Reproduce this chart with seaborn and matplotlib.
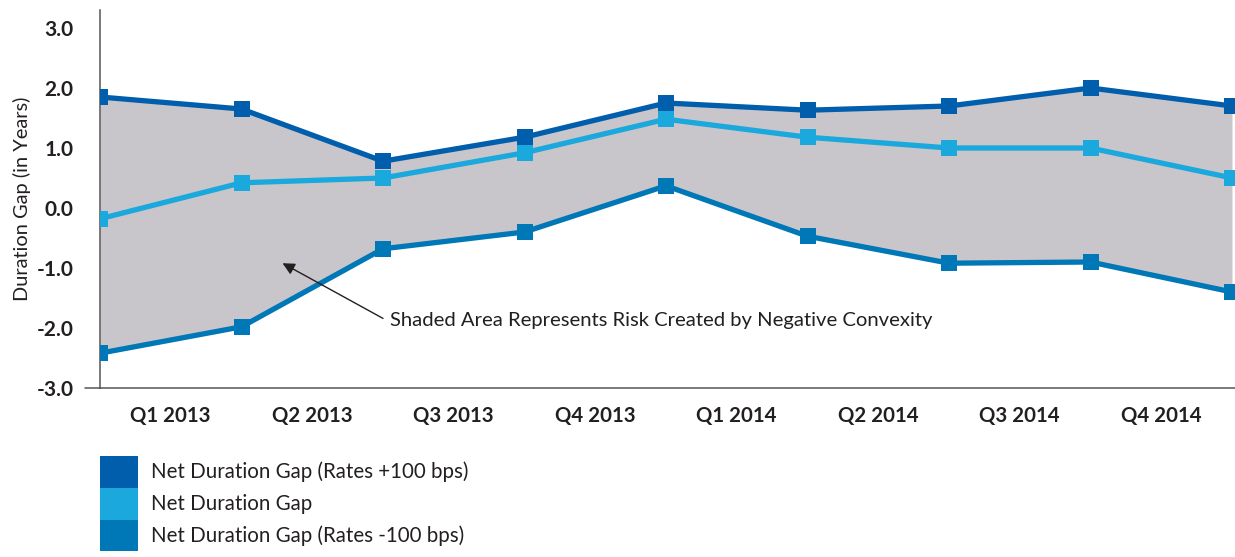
import pandas as pd
import seaborn as sns
import matplotlib.pyplot as plt
from matplotlib.patches import Patch

quarters = ["Q1 2013", "Q2 2013", "Q3 2013", "Q4 2013", "Q1 2014", "Q2 2014", "Q3 2014", "Q4 2014"]
points = [0, 1, 2, 3, 4, 5, 6, 7, 8]

gap_up = [1.85, 1.65, 0.78, 1.18, 1.75, 1.63, 1.70, 2.00, 1.70]
gap_base = [-0.18, 0.42, 0.50, 0.92, 1.48, 1.18, 1.00, 1.00, 0.50]
gap_down = [-2.42, -1.98, -0.68, -0.40, 0.37, -0.47, -0.92, -0.90, -1.40]

series_names = ["Net Duration Gap (Rates +100 bps)", "Net Duration Gap", "Net Duration Gap (Rates -100 bps)"]
colors = ["#005eac", "#1aa8dd", "#0077b6"]

df = pd.DataFrame({
    "x": points * 3,
    "gap": gap_up + gap_base + gap_down,
    "series": [series_names[0]] * 9 + [series_names[1]] * 9 + [series_names[2]] * 9,
})

sns.set_style("white")
plt.rcParams["font.family"] = ["Lato", "DejaVu Sans"]

fig = plt.figure(figsize=(12.35, 5.57), dpi=100)
ax = fig.add_axes([100 / 1235, 1 - 388 / 557, 1135 / 1235, 378 / 557])

# shaded risk band between +100 and -100 scenarios
ax.fill_between(points, gap_up, gap_down, color="#c8c6ca", lw=0, zorder=1)

sns.lineplot(data=df, x="x", y="gap", hue="series", hue_order=series_names,
             palette=colors, style="series", markers=["s", "s", "s"], dashes=False,
             markersize=12, markeredgewidth=0, linewidth=3.8, legend=False, ax=ax, zorder=3)

ax.set_xlim(0, 1135 / 141.5)
ax.set_ylim(-3.0, 3.3)

ax.set_yticks([3, 2, 1, 0, -1, -2, -3])
ax.set_yticklabels(["3.0", "2.0", "1.0", "0.0", "-1.0", "-2.0", "-3.0"],
                   fontsize=15, fontweight="bold", color="#231f20")
ax.tick_params(axis="y", length=0, pad=19)

ax.set_xticks(points)
ax.set_xticklabels([])
ax.set_xticks([p + 0.5 for p in points[:-1]], minor=True)
ax.set_xticklabels(quarters, minor=True, fontsize=14.7, fontweight="bold", color="#231f20")
ax.tick_params(axis="x", which="major", length=17, width=1.1, color="#555555", direction="out")
ax.tick_params(axis="x", which="minor", length=0, pad=13)

for side in ["top", "right"]:
    ax.spines[side].set_visible(False)
for side in ["left", "bottom"]:
    ax.spines[side].set_color("#555555")
    ax.spines[side].set_linewidth(1.1)
ax.axhline(-3.0, xmin=-15 / 1135, xmax=0, color="#555555", lw=1.1, clip_on=False)

ax.set_xlabel("")
ax.set_ylabel("Duration Gap (in Years)", fontsize=14.4, color="#231f20", labelpad=4)

ax.annotate("", xy=(1.29, -0.92), xytext=(2.0, -1.84),
            arrowprops=dict(arrowstyle="-|>", color="#231f20", lw=1.0,
                            mutation_scale=18, shrinkA=0, shrinkB=0))
ax.text(2.05, -1.87, "Shaded Area Represents Risk Created by Negative Convexity",
        fontsize=14.6, color="#231f20", va="center", ha="left")

handles = [Patch(facecolor=c, edgecolor="none") for c in colors]
fig.legend(handles, series_names, loc="upper left", bbox_to_anchor=(100 / 1235, 1 - 456 / 557),
           frameon=False, fontsize=14.8, handlelength=1.85, handleheight=2.0,
           labelspacing=0, handletextpad=0.63, borderpad=0, borderaxespad=0,
           labelcolor="#231f20")

fig.savefig("out.png", dpi=100)
